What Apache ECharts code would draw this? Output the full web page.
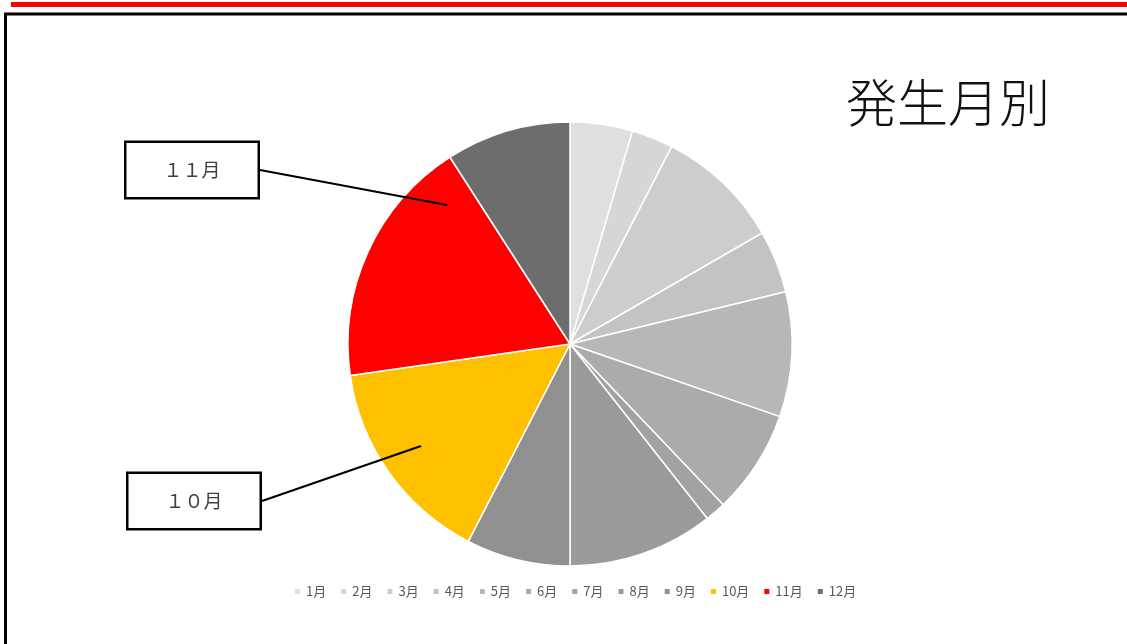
<!DOCTYPE html>
<html>
<head>
<meta charset="utf-8">
<script src="https://cdn.jsdelivr.net/npm/echarts@6/dist/echarts.min.js"></script>
<style>
  html, body { margin: 0; padding: 0; background: #fff; }
  #chart { width: 1127px; height: 644px; }
</style>
</head>
<body>
<div id="chart"></div>
<script>
  // 発生月別 件数（円グラフから読み取り）
  var months = ['1月', '2月', '3月', '4月', '5月', '6月', '7月', '8月', '9月', '10月', '11月', '12月']
  var counts = [3, 2, 6, 3, 6, 5, 1, 7, 5, 10, 12, 6]
  var colors = ['#dfdfdf', '#d6d6d6', '#cdcdcd', '#c3c3c3', '#b7b7b7', '#ababab',
    '#a2a2a2', '#9a9a9a', '#909090', '#ffc000', '#ff0000', '#6d6d6d']
  // 吹き出しを付ける月
  var calloutMonths = ['10月', '11月']

  function toFullWidth(s) {
    return s.replace(/[0-9]/g, function(c) {
      return String.fromCharCode(c.charCodeAt(0) + 0xFEE0)
    })
  }

  var chart = echarts.init(document.getElementById('chart'))

  var pieData = months.map(function(m, i) {
    return { name: m, value: counts[i], itemStyle: { color: colors[i] } }
  })

  // 吹き出し用（透明な円を上に重ねて、引出線が扇形の上に描かれるようにする）
  var calloutData = months.map(function(m, i) {
    var item = { name: m, value: counts[i] }
    if (calloutMonths.indexOf(m) >= 0) {
      item.label = { show: true, formatter: toFullWidth(m) }
      item.labelLine = { show: true }
    }
    return item
  })

  // 吹き出しの位置（10月, 11月）
  var calloutPos = {
    '10月': { x: 194, y: 501, tip: [421, 446] },
    '11月': { x: 192, y: 170, tip: [447, 205] }
  }

  var option = {
    animation: false,
    title: {
      text: '発生月別',
      left: 841,
      top: 72,
      textStyle: {
        fontFamily: 'Noto Sans CJK JP',
        fontSize: 51,
        fontWeight: 300,
        color: '#111'
      }
    },
    legend: {
      data: months,
      top: 580,
      left: 288,
      itemWidth: 7,
      itemHeight: 7,
      itemGap: 13,
      icon: 'rect',
      textStyle: {
        fontFamily: 'Noto Sans CJK JP',
        fontSize: 13,
        color: '#595959'
      }
    },
    graphic: [
      {
        type: 'rect',
        shape: { x: 11, y: 2, width: 1130, height: 5 },
        style: { fill: '#ff0000' }
      },
      {
        type: 'rect',
        shape: { x: 5.5, y: 14, width: 1200, height: 700 },
        style: { fill: 'none', stroke: '#000', lineWidth: 3 }
      }
    ],
    series: [{
      type: 'pie',
      center: [570, 344],
      radius: 222,
      startAngle: 90,
      clockwise: true,
      itemStyle: { borderColor: '#fff', borderWidth: 1.5 },
      label: { show: false },
      labelLine: { show: false },
      emphasis: { disabled: true },
      data: pieData
    }, {
      type: 'pie',
      center: [570, 344],
      radius: 222,
      startAngle: 90,
      clockwise: true,
      silent: true,
      z: 5,
      itemStyle: { color: 'rgba(0,0,0,0)', borderWidth: 0 },
      label: {
        show: false,
        fontFamily: 'Noto Sans CJK JP',
        fontSize: 19,
        color: '#404040',
        width: 131,
        height: 54,
        lineHeight: 54,
        align: 'center',
        backgroundColor: '#fff',
        borderColor: '#000',
        borderWidth: 2.5
      },
      labelLine: {
        show: false,
        lineStyle: { color: '#000', width: 2.2 }
      },
      labelLayout: function(params) {
        var name = months[params.dataIndex]
        var p = calloutPos[name]
        if (!p) return {}
        var edgeX = p.x + 68
        return {
          x: p.x,
          y: p.y,
          align: 'center',
          verticalAlign: 'middle',
          labelLinePoints: [p.tip, [edgeX, p.y], [edgeX, p.y]]
        }
      },
      emphasis: { disabled: true },
      data: calloutData
    }]
  }

  chart.setOption(option)
</script>
</body>
</html>
